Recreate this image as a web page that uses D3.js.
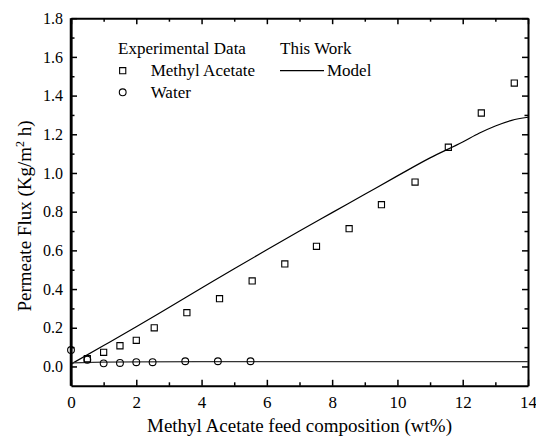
<!DOCTYPE html>
<html>
<head>
<meta charset="utf-8">
<script src="https://cdn.jsdelivr.net/npm/d3@7"></script>
<style>
  body { margin: 0; background: #fff; }
  svg { font-family: "Liberation Serif", "Times New Roman", serif; }
  .frame path.domain { stroke: #000; stroke-width: 2; }
  .frame line { stroke: #000; stroke-width: 1.5; }
  .frame text { fill: #000; }
</style>
</head>
<body>
<div id="chart"></div>
<script>
// experimental data - methyl acetate
const maX = [0.5, 1, 1.5, 2, 2.55, 3.55, 4.55, 5.55, 6.55, 7.52, 8.52, 9.51, 10.54, 11.56, 12.57, 13.58];
const maFlux = [0.040, 0.073, 0.107, 0.135, 0.200, 0.278, 0.350, 0.442, 0.530, 0.621, 0.712, 0.836, 0.953, 1.133, 1.310, 1.465];

// experimental data - water
const waterX = [0, 0.5, 1, 1.5, 2, 2.5, 3.5, 4.5, 5.5];
const waterFlux = [0.085, 0.035, 0.016, 0.018, 0.022, 0.022, 0.027, 0.027, 0.027];

// model curves (this work)
const modelX = [0, 1, 2, 3, 4, 5, 6, 7, 8, 9, 10, 11, 12, 12.5, 13, 13.5, 14];
const modelMA = [0.012, 0.108, 0.205, 0.305, 0.405, 0.505, 0.603, 0.700, 0.795, 0.890, 0.985, 1.078, 1.160, 1.205, 1.243, 1.272, 1.288];
const modelWaterX = [0, 1, 2, 4, 6, 8, 10, 12, 14];
const modelWater = [0.018, 0.022, 0.024, 0.025, 0.025, 0.025, 0.025, 0.025, 0.025];

const xMajor = [0, 2, 4, 6, 8, 10, 12, 14];
const xMinor = [1, 3, 5, 7, 9, 11, 13];
const yMajor = [0, 0.2, 0.4, 0.6, 0.8, 1.0, 1.2, 1.4, 1.6, 1.8];
const yMinor = [0.1, 0.3, 0.5, 0.7, 0.9, 1.1, 1.3, 1.5, 1.7];

const width = 536, height = 443;
const margin = {top: 18.2, right: 8, bottom: 57.2, left: 71};

const svg = d3.select("#chart").append("svg")
    .attr("width", width)
    .attr("height", height);

const x = d3.scaleLinear().domain([0, 14]).range([margin.left, width - margin.right]);
const y = d3.scaleLinear().domain([-0.1, 1.8]).range([height - margin.bottom, margin.top]);

const bottom = height - margin.bottom;
const right = width - margin.right;

// axes, ticks pointing inward on all four sides
svg.append("g").attr("class", "frame")
    .attr("transform", "translate(0," + bottom + ")")
    .call(d3.axisBottom(x).tickValues(xMajor).tickSize(-6).tickSizeOuter(0).tickPadding(10).tickFormat(d3.format("d")))
    .call(g => g.selectAll("text").attr("font-size", 17).attr("font-family", "Liberation Serif"));
svg.append("g").attr("class", "frame")
    .attr("transform", "translate(0," + bottom + ")")
    .call(d3.axisBottom(x).tickValues(xMinor).tickSize(-3.5).tickSizeOuter(0).tickFormat(""))
    .call(g => g.select(".domain").remove());

svg.append("g").attr("class", "frame")
    .attr("transform", "translate(0," + margin.top + ")")
    .call(d3.axisTop(x).tickValues(xMajor).tickSize(-6).tickSizeOuter(0).tickFormat(""));
svg.append("g").attr("class", "frame")
    .attr("transform", "translate(0," + margin.top + ")")
    .call(d3.axisTop(x).tickValues(xMinor).tickSize(-3.5).tickSizeOuter(0).tickFormat(""))
    .call(g => g.select(".domain").remove());

svg.append("g").attr("class", "frame")
    .attr("transform", "translate(" + margin.left + ",0)")
    .call(d3.axisLeft(y).tickValues(yMajor).tickSize(-6).tickSizeOuter(0).tickPadding(8).tickFormat(d3.format(".1f")))
    .call(g => g.selectAll("text").attr("font-size", 16).attr("font-family", "Liberation Serif"));
svg.append("g").attr("class", "frame")
    .attr("transform", "translate(" + margin.left + ",0)")
    .call(d3.axisLeft(y).tickValues(yMinor).tickSize(-3.5).tickSizeOuter(0).tickFormat(""))
    .call(g => g.select(".domain").remove());

svg.append("g").attr("class", "frame")
    .attr("transform", "translate(" + right + ",0)")
    .call(d3.axisRight(y).tickValues(yMajor).tickSize(-6).tickSizeOuter(0).tickFormat(""));
svg.append("g").attr("class", "frame")
    .attr("transform", "translate(" + right + ",0)")
    .call(d3.axisRight(y).tickValues(yMinor).tickSize(-3.5).tickSizeOuter(0).tickFormat(""))
    .call(g => g.select(".domain").remove());

// model lines
const line = d3.line()
    .x(d => x(d[0]))
    .y(d => y(d[1]))
    .curve(d3.curveMonotoneX);

svg.append("path")
    .datum(d3.zip(modelX, modelMA))
    .attr("fill", "none")
    .attr("stroke", "#000")
    .attr("stroke-width", 1.2)
    .attr("d", line);

svg.append("path")
    .datum(d3.zip(modelWaterX, modelWater))
    .attr("fill", "none")
    .attr("stroke", "#333")
    .attr("stroke-width", 1.3)
    .attr("d", line);

// experimental points
const square = d3.symbol().type(d3.symbolSquare).size(38);

svg.selectAll(".ma")
    .data(d3.zip(maX, maFlux))
    .enter().append("path")
    .attr("class", "ma")
    .attr("d", square)
    .attr("transform", d => "translate(" + x(d[0]) + "," + y(d[1]) + ")")
    .attr("fill", "none")
    .attr("stroke", "#000")
    .attr("stroke-width", 1.1);

svg.selectAll(".water")
    .data(d3.zip(waterX, waterFlux))
    .enter().append("circle")
    .attr("class", "water")
    .attr("cx", d => x(d[0]))
    .attr("cy", d => y(d[1]))
    .attr("r", 3.4)
    .attr("fill", "none")
    .attr("stroke", "#000")
    .attr("stroke-width", 1.1);

// redraw left axis line on top of the clipped marker
svg.append("line")
    .attr("x1", margin.left).attr("x2", margin.left)
    .attr("y1", margin.top).attr("y2", bottom)
    .attr("stroke", "#000").attr("stroke-width", 2.5);

// legend
const legend = svg.append("g").attr("font-size", 17).attr("fill", "#000");
legend.append("text").attr("x", 118).attr("y", 54).text("Experimental Data");
legend.append("text").attr("x", 280).attr("y", 54).text("This Work");
legend.append("path")
    .attr("d", square)
    .attr("transform", "translate(122.7,70.7)")
    .attr("fill", "none").attr("stroke", "#000").attr("stroke-width", 1.1);
legend.append("text").attr("x", 150.7).attr("y", 76).text("Methyl Acetate");
legend.append("circle")
    .attr("cx", 122.7).attr("cy", 92.3).attr("r", 3.4)
    .attr("fill", "none").attr("stroke", "#000").attr("stroke-width", 1.1);
legend.append("text").attr("x", 150.7).attr("y", 98).text("Water");
legend.append("line")
    .attr("x1", 280).attr("x2", 324).attr("y1", 70.7).attr("y2", 70.7)
    .attr("stroke", "#000").attr("stroke-width", 1.2);
legend.append("text").attr("x", 327).attr("y", 76).text("Model");

// axis titles
svg.append("text")
    .attr("x", (margin.left + right) / 2)
    .attr("y", 432)
    .attr("text-anchor", "middle")
    .attr("font-size", 19)
    .text("Methyl Acetate feed composition (wt%)");

const yTitle = svg.append("text")
    .attr("transform", "translate(31,216) rotate(-90)")
    .attr("text-anchor", "middle")
    .attr("font-size", 19);
yTitle.append("tspan").text("Permeate Flux (Kg/m");
yTitle.append("tspan").attr("dy", -7).attr("font-size", 12).text("2");
yTitle.append("tspan").attr("dy", 7).text(" h)");
</script>
</body>
</html>
